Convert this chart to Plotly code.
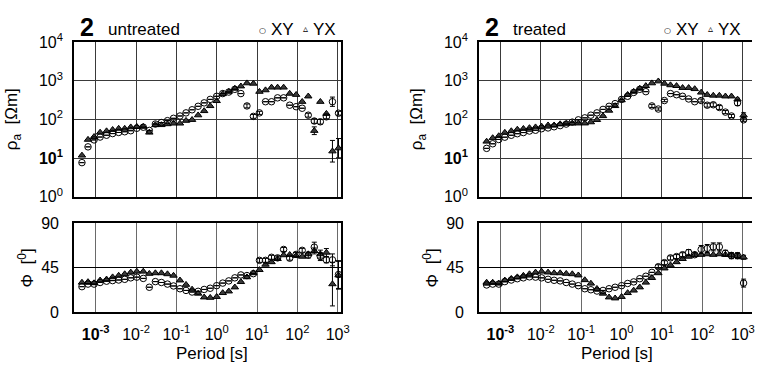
import plotly.graph_objects as go

# ---------------- data ----------------
period_log10 = [-3.34, -3.19, -3.04, -2.89, -2.73, -2.58, -2.43, -2.28, -2.13, -1.98,
                -1.82, -1.67, -1.52, -1.37, -1.22, -1.07, -0.91, -0.76, -0.61,
                -0.46, -0.31, -0.16, 0.00, 0.15, 0.30, 0.45,
                0.60, 0.75, 0.91, 1.06, 1.21, 1.36, 1.51,
                1.66, 1.81, 1.97, 2.12, 2.27, 2.42, 2.57,
                2.72, 2.87, 3.02]
periods = [10 ** v for v in period_log10]

# untreated
u_rho_xy = [7.6, 19.5, 29.5, 35, 39, 43, 46, 48, 51, 59, 63, 52, 76, 83, 93, 107, 123, 148, 178,
            219, 269, 331, 398, 468, 513, 603, 468, 224, 120, 148, 288, 288, 363, 363, 234, 214,
            195, 129, 91, 87, 117, 288, 145]
u_rho_yx = [11.7, 30, 35.5, 46, 50, 54, 58, 58, 63, 65, 65, 46, 72, 72, 76, 79, 79, 93, 98,
            129, 166, 224, 302, 457, 525, 631, 724, 871, 851, 525, 575, 676, 676, 676, 468, 437,
            288, 398, 51, 288, 141, 15, 18]
u_rho_xy_err = [0] * 27 + [0.05, 0.05, 0.04, 0, 0, 0, 0, 0, 0, 0, 0.05, 0.06, 0.06, 0.05, 0.12, 0.05]
u_rho_yx_err = [0] * 38 + [0.10, 0, 0, 0.28, 0.25]
u_phi_xy = [26.0, 28.6, 28.6, 30.2, 31.5, 32.1, 32.7, 33.4, 34.9, 35.6, 34.3, 25.4, 31.1, 30.2,
            28.6, 26.7, 23.9, 22.2, 20.6, 21.3, 23.2, 24.4, 27.0, 29.6, 31.8, 34.9, 37.8, 37.2,
            39.1, 52.5, 52.5, 55.6, 55.0, 63.5, 54.7, 58.5, 62.6, 57.8, 65.8, 56.3, 53.0, 53.0, 38.2]
u_phi_yx = [30.2, 30.8, 29.6, 32.4, 33.4, 35.6, 37.2, 38.7, 40.4, 41.3, 41.3, 39.1, 39.7, 39.7,
            38.7, 37.2, 32.4, 28.0, 23.2, 19.1, 15.3, 14.9, 15.8, 19.7, 21.3, 25.4, 30.8, 35.6,
            39.7, 42.9, 48.3, 50.8, 54.0, 57.8, 58.2, 57.2, 56.3, 58.8, 62.0, 58.8, 60.4, 28.6, 37.5]
u_phi_xy_err = [0] * 29 + [2, 2, 2, 2, 2, 2, 2, 2, 3, 5, 4, 3, 6, 14]
u_phi_yx_err = [0] * 38 + [3, 4, 4, 22, 14]

# treated
t_rho_xy = [17.8, 23.4, 30.2, 34.7, 38.9, 42.7, 45.7, 50.1, 52.5, 57.5, 60.3, 64.6, 69.2, 75.9,
            85.1, 97.7, 110, 129, 148, 182, 219, 257, 331, 398, 501, 603, 525, 224, 186, 309,
            468, 437, 398, 339, 288, 309, 234, 240, 204, 155, 123, 269, 98]
t_rho_yx = [26.9, 33.1, 37.2, 45.7, 50.1, 55.0, 57.5, 60.3, 63.1, 66.1, 70.8, 70.8, 75.9, 77.6,
            79.4, 79.4, 79.4, 85.1, 97.7, 123, 170, 224, 316, 437, 525, 631, 741, 871, 977, 851,
            776, 741, 661, 661, 617, 501, 437, 417, 417, 398, 398, 331, 129]
t_rho_xy_err = [0] * 27 + [0.04, 0.03, 0.03, 0, 0, 0, 0, 0, 0.04, 0.05, 0.05, 0.05, 0.04, 0.04, 0.07, 0.04]
t_rho_yx_err = [0] * 41 + [0.03, 0.06]
t_phi_xy = [27.7, 28.6, 28.6, 31.1, 32.7, 34.0, 34.9, 35.9, 35.6, 34.9, 33.4, 32.4, 31.8, 30.2,
            28.6, 27.0, 23.9, 22.9, 21.6, 22.2, 23.9, 25.4, 27.0, 29.2, 30.8, 34.0, 36.5, 40.4,
            46.1, 50.2, 55.0, 56.3, 58.2, 60.4, 58.2, 63.5, 64.5, 66.1, 66.1, 59.7, 57.2, 57.2, 29.6]
t_phi_yx = [30.2, 30.2, 29.2, 32.4, 34.0, 35.6, 37.2, 38.7, 40.4, 41.3, 40.4, 39.7, 39.7, 39.1,
            38.7, 37.5, 32.7, 29.2, 23.9, 19.1, 15.3, 14.3, 15.8, 19.7, 22.2, 25.4, 30.2, 34.9,
            39.7, 44.5, 47.7, 50.8, 54.0, 56.3, 58.2, 58.2, 58.8, 58.2, 58.8, 58.2, 57.8, 57.2, 55.6]
t_phi_xy_err = [0] * 28 + [2, 2, 2, 2, 2, 3, 2, 4, 4, 4, 4, 3, 3, 3, 4]
t_phi_yx_err = [0] * 40 + [2, 2, 2]

x_tickvals = [1e-3, 1e-2, 1e-1, 1, 10, 100, 1000]
x_ticktext = ["<b>10<sup>-3</sup></b>", "10<sup>-2</sup>", "10<sup>-1</sup>", "10<sup>0</sup>",
              "10<sup>1</sup>", "10<sup>2</sup>", "10<sup>3</sup>"]
rho_tickvals = [1, 10, 100, 1000, 10000]
rho_ticktext = ["10<sup>0</sup>", "<b>10<sup>1</sup></b>", "10<sup>2</sup>", "10<sup>3</sup>", "10<sup>4</sup>"]
phi_tickvals = [0, 45, 90]
phi_ticktext = ["0", "45", "90"]

panel_labels = ["untreated", "treated"]
legend_names = ["XY", "YX"]

# ---------------- layout geometry ----------------
W, H = 760, 378
FONT = "Liberation Sans, Arial, sans-serif"


def px_x(p):
    return p / W


def px_y(p):
    return (H - p) / H


fig = go.Figure()


def rho_err(vals, dex):
    plus = [v * (10 ** e - 1) for v, e in zip(vals, dex)]
    minus = [v * (1 - 10 ** (-e)) for v, e in zip(vals, dex)]
    return dict(type="data", symmetric=False, array=plus, arrayminus=minus,
                color="black", thickness=1, width=2.5)


def lin_err(errs):
    return dict(type="data", array=errs, color="black", thickness=1, width=2.5)


circle_marker = dict(symbol="circle", size=6.5, color="rgba(255,255,255,0)",
                     line=dict(color="black", width=1))
tri_marker = dict(symbol="triangle-up", size=6.5, color="#3a3a3a",
                  line=dict(color="black", width=1))

sets = [
    (u_rho_xy, u_rho_yx, u_rho_xy_err, u_rho_yx_err, u_phi_xy, u_phi_yx, u_phi_xy_err, u_phi_yx_err),
    (t_rho_xy, t_rho_yx, t_rho_xy_err, t_rho_yx_err, t_phi_xy, t_phi_yx, t_phi_xy_err, t_phi_yx_err),
]

for k, (rxy, ryx, rxye, ryxe, pxy, pyx, pxye, pyxe) in enumerate(sets):
    xr = "x" if k == 0 else "x3"
    xp = "x2" if k == 0 else "x4"
    yr = "y" if k == 0 else "y3"
    yp = "y2" if k == 0 else "y4"
    fig.add_trace(go.Scatter(x=periods, y=ryx, mode="markers", marker=tri_marker,
                             error_y=rho_err(ryx, ryxe), xaxis=xr, yaxis=yr, showlegend=False))
    fig.add_trace(go.Scatter(x=periods, y=rxy, mode="markers", marker=circle_marker,
                             error_y=rho_err(rxy, rxye), xaxis=xr, yaxis=yr, showlegend=False))
    fig.add_trace(go.Scatter(x=periods, y=pyx, mode="markers", marker=tri_marker,
                             error_y=lin_err(pyxe), xaxis=xp, yaxis=yp, showlegend=False))
    fig.add_trace(go.Scatter(x=periods, y=pxy, mode="markers", marker=circle_marker,
                             error_y=lin_err(pxye), xaxis=xp, yaxis=yp, showlegend=False))

left_dom = [px_x(75), px_x(345)]
right_dom = [px_x(484.3), 1.0]
rho_dom = [px_y(196), px_y(33)]
phi_dom = [px_y(318.3), px_y(224)]
left_range = [-3.532, 3.091]
right_range = [-3.524, 3.228]

tickfont = dict(family=FONT, size=16, color="black")

common_x = dict(type="log", showline=True, linecolor="black", linewidth=2, mirror=True,
                showgrid=True, gridwidth=1, tickvals=x_tickvals, ticktext=x_ticktext,
                ticks="", tickfont=tickfont, zeroline=False, ticklabeloverflow="allow")

fig.update_layout(
    xaxis=dict(common_x, domain=left_dom, range=left_range, anchor="y",
               showticklabels=False, gridcolor="#3a3a3a"),
    xaxis2=dict(common_x, domain=left_dom, range=left_range, anchor="y2",
                gridcolor="#6a6a6a", ticklabelstandoff=6),
    xaxis3=dict(common_x, domain=right_dom, range=right_range, anchor="y3",
                showticklabels=False, gridcolor="#3a3a3a"),
    xaxis4=dict(common_x, domain=right_dom, range=right_range, anchor="y4",
                gridcolor="#6a6a6a", ticklabelstandoff=6),
    yaxis=dict(type="log", domain=rho_dom, range=[0, 4], anchor="x", showline=True,
               linecolor="black", linewidth=2, mirror=True, showgrid=True, gridcolor="#3a3a3a",
               tickvals=rho_tickvals, ticktext=rho_ticktext, ticks="", tickfont=tickfont,
               ticklabelstandoff=6),
    yaxis2=dict(domain=phi_dom, range=[0, 90], anchor="x2", showline=True,
                linecolor="black", linewidth=2, mirror=True, showgrid=True, gridcolor="black",
                tickvals=phi_tickvals, ticktext=phi_ticktext, ticks="", tickfont=tickfont,
                zeroline=False, ticklabelstandoff=10),
    yaxis3=dict(type="log", domain=rho_dom, range=[0, 4], anchor="x3", showline=True,
                linecolor="black", linewidth=2, mirror=False, showgrid=True, gridcolor="#3a3a3a",
                tickvals=rho_tickvals, ticktext=rho_ticktext, ticks="", tickfont=tickfont,
                ticklabelstandoff=6),
    yaxis4=dict(domain=phi_dom, range=[0, 90], anchor="x4", showline=True,
                linecolor="black", linewidth=2, mirror=False, showgrid=True, gridcolor="black",
                tickvals=phi_tickvals, ticktext=phi_ticktext, ticks="", tickfont=tickfont,
                zeroline=False, ticklabelstandoff=10),
    width=W, height=H, autosize=False,
    margin=dict(l=0, r=0, t=0, b=0),
    paper_bgcolor="white", plot_bgcolor="white",
    font=dict(family=FONT, color="black"),
    showlegend=False,
)

annos = []
panel_x0 = [75, 484.3]
for k in range(2):
    x0 = panel_x0[k]
    annos.append(dict(text="<b>2</b>", x=px_x(x0 + 4), y=px_y(17), xanchor="left", yanchor="middle",
                      font=dict(family=FONT, size=25)))
    annos.append(dict(text=panel_labels[k], x=px_x(x0 + 32), y=px_y(20), xanchor="left",
                      yanchor="middle", font=dict(family=FONT, size=17)))
    # legend: glyph + label pairs
    annos.append(dict(text="○", x=px_x(x0 + 190.7), y=px_y(20.5), xanchor="center",
                      yanchor="middle", font=dict(family="DejaVu Sans", size=8)))
    annos.append(dict(text=legend_names[0], x=px_x(x0 + 196.5), y=px_y(20), xanchor="left",
                      yanchor="middle", font=dict(family=FONT, size=17)))
    annos.append(dict(text="▵", x=px_x(x0 + 233.3), y=px_y(18.5), xanchor="center",
                      yanchor="middle", font=dict(family="DejaVu Sans", size=10)))
    annos.append(dict(text=legend_names[1], x=px_x(x0 + 239), y=px_y(20), xanchor="left",
                      yanchor="middle", font=dict(family=FONT, size=17)))
    annos.append(dict(text="ρ<sub>a</sub>  [Ωm]", x=px_x(x0 - 61), y=px_y(114.5), textangle=-90,
                      xanchor="center", yanchor="middle", font=dict(family=FONT, size=17)))
    annos.append(dict(text="Φ  [<sup>0</sup>]", x=px_x(x0 - 49), y=px_y(271), textangle=-90,
                      xanchor="center", yanchor="middle", font=dict(family=FONT, size=17)))
    annos.append(dict(text="Period [s]", x=px_x(x0 + 139), y=px_y(362), xanchor="center",
                      yanchor="middle", font=dict(family=FONT, size=17)))

for a in annos:
    a.update(xref="paper", yref="paper", showarrow=False)
fig.update_layout(annotations=annos)

fig.write_html("out.html")
